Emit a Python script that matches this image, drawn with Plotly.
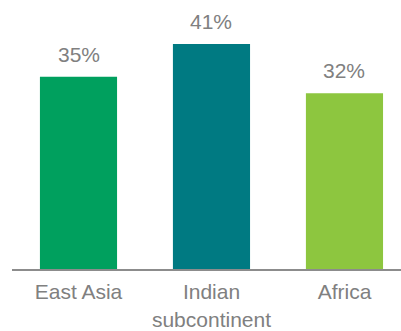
import plotly.graph_objects as go

regions = ["East Asia", "Indian<br>subcontinent", "Africa"]
shares = [35, 41, 32]
bar_colors = ["#00A05E", "#007A82", "#8DC63F"]

GREY = "#808080"
FONT = "Liberation Sans, Arial, sans-serif"

positions = list(range(len(regions)))

fig = go.Figure(
    go.Bar(
        x=positions,
        y=shares,
        marker=dict(color=bar_colors, line=dict(width=0)),
        width=0.58,
        hoverinfo="skip",
    )
)

for xi, v in zip(positions, shares):
    fig.add_annotation(
        x=xi, y=v, text=f"{v}%", showarrow=False,
        xanchor="center", yanchor="bottom", yshift=9,
        font=dict(family=FONT, size=21, color=GREY),
    )

fig.update_layout(
    width=401, height=331,
    margin=dict(l=12, r=0, t=0, b=60),
    paper_bgcolor="white", plot_bgcolor="white",
    showlegend=False,
    xaxis=dict(
        range=[-0.5, 2.425],
        tickmode="array", tickvals=positions, ticktext=regions,
        showline=True, linecolor="#8C8C8C", linewidth=2,
        showgrid=False, zeroline=False, ticks="",
        ticklabelstandoff=3,
        tickfont=dict(family=FONT, size=21, color=GREY),
    ),
    yaxis=dict(range=[0, 49], visible=False, showgrid=False, zeroline=False),
)

fig.write_html("out.html")
